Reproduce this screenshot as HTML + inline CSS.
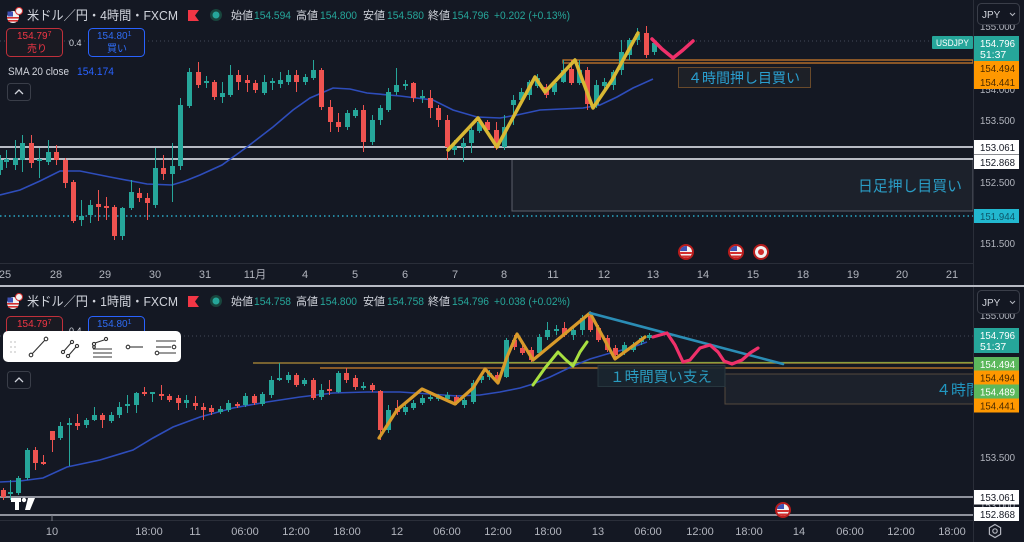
<!DOCTYPE html>
<html><head><meta charset="utf-8">
<style>
html,body{margin:0;padding:0;background:#141823;}
body{width:1024px;height:542px;overflow:hidden;}
svg{display:block;font-family:"Liberation Sans","Noto Sans CJK JP",sans-serif;}
</style></head>
<body>
<svg id="s" width="1024" height="542" viewBox="0 0 1024 542" xmlns="http://www.w3.org/2000/svg">
<defs>
<clipPath id="cc"><circle r="6"/></clipPath>
<clipPath id="chartB"><rect x="0" y="288" width="973" height="232"/></clipPath>
<g id="us"><circle r="8" fill="#b71c1c"/><g clip-path="url(#cc)"><rect x="-6" y="-6" width="12" height="12" fill="#f2f2f2"/><rect x="-6" y="0" width="12" height="2" fill="#d32f2f"/><rect x="-6" y="3.5" width="12" height="3" fill="#d32f2f"/><rect x="-6" y="-6" width="7" height="5" fill="#3f51b5"/></g></g>
<g id="jp"><circle r="8" fill="#b71c1c"/><circle r="6" fill="#f2f2f2"/><circle r="3" fill="#d32f2f"/></g>
</defs>
<rect width="1024" height="542" fill="#141823"/>

<!-- ================= TOP PANEL ================= -->
<rect x="512" y="159" width="461" height="52" fill="#1c212b" stroke="#5d606b" stroke-width="1"/>
<text x="858" y="191" font-size="15" fill="#2a9cc4" textLength="104" lengthAdjust="spacingAndGlyphs">日足押し目買い</text>
<line x1="0" y1="41" x2="973" y2="41" stroke="#434a5a" stroke-width="1" stroke-dasharray="1,3"/>
<line x1="0" y1="216" x2="973" y2="216" stroke="#2aa8c6" stroke-width="1.5" stroke-dasharray="1.5,3"/>
<line x1="0" y1="147" x2="973" y2="147" stroke="#b8bbc4" stroke-width="2"/>
<line x1="0" y1="159" x2="973" y2="159" stroke="#b8bbc4" stroke-width="2"/>
<rect x="563" y="60" width="410" height="3" fill="none" stroke="#c8782a" stroke-width="1.3"/>
<polyline fill="none" stroke="#2e4dbb" stroke-width="1.6" points="0,195 20,190 40,181 60,171 80,171 110,177 147,184 172,185 185,181 200,175 222,165 247,147 273,127 293,110 310,98 333,88 350,89 367,93 400,96 433,100 453,110 477,117 500,118 517,115 540,110 583,108 600,105 617,97 633,88 653,79"/>
<g id="candT"></g>
<polyline fill="none" stroke="#d9b833" stroke-width="3.5" stroke-linejoin="round" stroke-linecap="round" points="448,150 478,118 497,147 535,77 545,92 575,60 593,108 612,80 638,33"/>
<polyline fill="none" stroke="#f0306a" stroke-width="3.5" stroke-linejoin="round" stroke-linecap="round" points="652,39 662,49 673,58 683,50 693,41"/>
<rect x="678.5" y="67.5" width="132" height="20" fill="#1d2027" stroke="#6a4a2a" stroke-width="1"/>
<text x="688" y="83" font-size="14" fill="#2a9fd0" textLength="112" lengthAdjust="spacingAndGlyphs">４時間押し目買い</text>
<use href="#us" x="686" y="252"/>
<use href="#us" x="736" y="252"/>
<use href="#jp" x="761" y="252"/>
<line x1="0" y1="263.5" x2="973" y2="263.5" stroke="#2a2e39" stroke-width="1"/>
<g font-size="11" fill="#b2b5be" text-anchor="middle">
<text x="5" y="278">25</text><text x="56" y="278">28</text><text x="105" y="278">29</text><text x="155" y="278">30</text><text x="205" y="278">31</text><text x="255" y="278">11月</text><text x="305" y="278">4</text><text x="355" y="278">5</text><text x="405" y="278">6</text><text x="455" y="278">7</text><text x="504" y="278">8</text><text x="553" y="278">11</text><text x="604" y="278">12</text><text x="653" y="278">13</text><text x="703" y="278">14</text><text x="753" y="278">15</text><text x="803" y="278">18</text><text x="853" y="278">19</text><text x="902" y="278">20</text><text x="952" y="278">21</text>
</g>
<line x1="973.5" y1="0" x2="973.5" y2="285" stroke="#2a2e39" stroke-width="1"/>
<g font-size="10.5" fill="#b2b5be">
<text x="980" y="30" textLength="35" lengthAdjust="spacingAndGlyphs">155.000</text>
<text x="980" y="93" textLength="35" lengthAdjust="spacingAndGlyphs">154.000</text>
<text x="980" y="124" textLength="35" lengthAdjust="spacingAndGlyphs">153.500</text>
<text x="980" y="186" textLength="35" lengthAdjust="spacingAndGlyphs">152.500</text>
<text x="980" y="247" textLength="35" lengthAdjust="spacingAndGlyphs">151.500</text>
</g>
<rect x="977.5" y="3.5" width="42" height="21" rx="4" fill="#131722" stroke="#3a3e49"/>
<text x="982" y="18" font-size="10" fill="#d1d4dc">JPY</text>
<polyline points="1010,13 1012.5,15.5 1015,13" fill="none" stroke="#b2b5be" stroke-width="1"/>
<rect x="932" y="36" width="41" height="13" rx="1" fill="#26a69a"/>
<text x="936" y="46" font-size="9.5" fill="#ffffff" textLength="33" lengthAdjust="spacingAndGlyphs">USDJPY</text>
<rect x="974" y="36" width="45" height="25" fill="#26a69a"/>
<text x="980" y="47" font-size="10.5" fill="#ffffff" textLength="35" lengthAdjust="spacingAndGlyphs">154.796</text>
<text x="980" y="58" font-size="10.5" fill="#ffffff">51:37</text>
<rect x="974" y="61" width="45" height="14" fill="#ff9800"/>
<text x="980" y="72" font-size="10.5" fill="#4a2a00" textLength="35" lengthAdjust="spacingAndGlyphs">154.494</text>
<rect x="974" y="75" width="45" height="14" fill="#ff9800"/>
<text x="980" y="86" font-size="10.5" fill="#4a2a00" textLength="35" lengthAdjust="spacingAndGlyphs">154.441</text>
<rect x="974" y="140" width="45" height="14.5" fill="#ffffff"/>
<text x="980" y="151" font-size="10.5" fill="#131722" textLength="35" lengthAdjust="spacingAndGlyphs">153.061</text>
<rect x="974" y="155" width="45" height="14" fill="#ffffff"/>
<text x="980" y="166" font-size="10.5" fill="#131722" textLength="35" lengthAdjust="spacingAndGlyphs">152.868</text>
<rect x="974" y="209" width="45" height="14" fill="#22b8d0"/>
<text x="980" y="220" font-size="10.5" fill="#0d5568" textLength="35" lengthAdjust="spacingAndGlyphs">151.944</text>

<circle cx="13" cy="17" r="6" fill="#f2f2f2"/>
<rect x="7" y="17" width="12" height="1.6" fill="#d32f2f"/><rect x="8" y="20" width="10" height="1.6" fill="#d32f2f"/>
<rect x="7.5" y="11.5" width="5.5" height="5" fill="#3f51b5"/>
<circle cx="19" cy="11" r="3.5" fill="#f2f2f2" stroke="#d32f2f" stroke-width="1"/>
<text x="27" y="20" font-size="13" fill="#d1d4dc" textLength="151" lengthAdjust="spacingAndGlyphs">米ドル／円・4時間・FXCM</text>
<polygon points="188,10 199,10 195,15.5 199,21 188,21" fill="#f23645"/>
<circle cx="216" cy="15" r="6" fill="#18453d"/><circle cx="216" cy="15" r="3.5" fill="#26a69a"/>
<g font-size="11">
<text x="231" y="19" fill="#d1d4dc">始値</text><text x="254" y="19" fill="#26a69a" textLength="37" lengthAdjust="spacingAndGlyphs">154.594</text>
<text x="296" y="19" fill="#d1d4dc">高値</text><text x="320" y="19" fill="#26a69a" textLength="37" lengthAdjust="spacingAndGlyphs">154.800</text>
<text x="363" y="19" fill="#d1d4dc">安値</text><text x="387" y="19" fill="#26a69a" textLength="37" lengthAdjust="spacingAndGlyphs">154.580</text>
<text x="428" y="19" fill="#d1d4dc">終値</text><text x="452" y="19" fill="#26a69a" textLength="37" lengthAdjust="spacingAndGlyphs">154.796</text>
<text x="494" y="19" fill="#26a69a" textLength="76" lengthAdjust="spacingAndGlyphs">+0.202 (+0.13%)</text>
</g>
<rect x="6.5" y="28.5" width="56" height="28" rx="4" fill="#1a1a22" stroke="#c0303b"/>
<text x="17" y="39" font-size="10" fill="#f23645">154.79<tspan font-size="7" dy="-3">7</tspan></text>
<text x="27" y="52" font-size="10" fill="#f23645">売り</text>
<text x="69" y="46" font-size="9" fill="#d1d4dc">0.4</text>
<rect x="88.5" y="28.5" width="56" height="28" rx="4" fill="#161a28" stroke="#2962ff"/>
<text x="97" y="39" font-size="10" fill="#2f6cf5">154.80<tspan font-size="7" dy="-3">1</tspan></text>
<text x="107" y="52" font-size="10" fill="#2f6cf5">買い</text>
<text x="8" y="75" font-size="11" fill="#d1d4dc" textLength="61" lengthAdjust="spacingAndGlyphs">SMA 20 close</text>
<text x="77" y="75" font-size="11" fill="#2962ff" textLength="37" lengthAdjust="spacingAndGlyphs">154.174</text>
<rect x="7.5" y="83.5" width="23" height="17" rx="3" fill="#141823" stroke="#3a3e49"/>
<polyline points="15,94 19,90 23,94" fill="none" stroke="#d1d4dc" stroke-width="1.3"/>

<rect x="0" y="285" width="1024" height="2" fill="#b8bbc4"/>

<!-- ================= BOTTOM PANEL ================= -->
<g clip-path="url(#chartB)">
<rect x="725" y="374" width="250" height="30" fill="#1c212b" stroke="#54493e" stroke-width="1"/>
<text x="936" y="395" font-size="15" fill="#2196c0">４時間押し目買い</text>
</g>
<line x1="0" y1="336" x2="973" y2="336" stroke="#434a5a" stroke-width="1" stroke-dasharray="1,3"/>
<line x1="253" y1="363" x2="973" y2="363" stroke="#9a7a35" stroke-width="1.5"/>
<line x1="480" y1="362.5" x2="973" y2="362.5" stroke="#8fae40" stroke-width="1.3" opacity="0.8"/>
<line x1="320" y1="368" x2="973" y2="368" stroke="#b0702a" stroke-width="1.5"/>
<line x1="0" y1="497" x2="973" y2="497" stroke="#b8bbc4" stroke-width="1.6"/>
<line x1="0" y1="515" x2="973" y2="515" stroke="#b8bbc4" stroke-width="1.6"/>
<polyline fill="none" stroke="#2e4dbb" stroke-width="1.6" points="0,482 20,481 43,478 67,467 100,460 133,450 153,438 173,427 200,417 233,408 267,402 300,397 333,393 367,392 400,392 430,394 457,396 480,395 500,392 520,388 533,384 550,377 573,366 590,359 607,354 630,348 647,342"/>
<g id="candB"></g>
<rect x="598" y="365.5" width="127" height="21" fill="#1a2630" stroke="#2a3a42" stroke-width="1" opacity="0.9"/>
<text x="610" y="382" font-size="14.5" fill="#2a9cc0" textLength="102" lengthAdjust="spacingAndGlyphs">１時間買い支え</text>
<polyline fill="none" stroke="#d89a2a" stroke-width="3.2" stroke-linejoin="round" stroke-linecap="round" points="379,438 397,410 422,389 435,395 455,404 473,388 485,369 498,383 507,357 517,334 533,360 590,313 615,359 645,337"/>
<polyline fill="none" stroke="#a8e040" stroke-width="3" stroke-linejoin="round" stroke-linecap="round" points="533,385 545,368 558,352 566,360 573,366 580,352 587,342"/>
<line x1="590" y1="313" x2="783" y2="364" stroke="#2b8db5" stroke-width="2.6" stroke-linecap="round"/>
<polyline fill="none" stroke="#f0306a" stroke-width="3.2" stroke-linejoin="round" stroke-linecap="round" points="653,337 667,333 675,345 683,362 690,360 700,348 710,345 718,352 724,361 732,364 742,360 750,353 758,348"/>
<use href="#us" x="783" y="510"/>
<rect x="11" y="498" width="10" height="4" fill="#ffffff"/><rect x="15" y="498" width="4" height="12" fill="#ffffff"/>
<circle cx="24" cy="500" r="2.2" fill="#ffffff"/><polygon points="28,498 35,498 30,510 25,510" fill="#ffffff"/>
<line x1="0" y1="520.5" x2="973" y2="520.5" stroke="#2a2e39" stroke-width="1"/>
<line x1="52" y1="515" x2="52" y2="521" stroke="#787b86" stroke-width="1"/>
<g font-size="11" fill="#b2b5be" text-anchor="middle">
<text x="52" y="535">10</text><text x="149" y="535">18:00</text><text x="195" y="535">11</text><text x="245" y="535">06:00</text><text x="296" y="535">12:00</text><text x="347" y="535">18:00</text><text x="397" y="535">12</text><text x="447" y="535">06:00</text><text x="498" y="535">12:00</text><text x="548" y="535">18:00</text><text x="598" y="535">13</text><text x="648" y="535">06:00</text><text x="700" y="535">12:00</text><text x="749" y="535">18:00</text><text x="799" y="535">14</text><text x="850" y="535">06:00</text><text x="901" y="535">12:00</text><text x="952" y="535">18:00</text>
</g>
<line x1="973.5" y1="287" x2="973.5" y2="542" stroke="#2a2e39" stroke-width="1"/>
<g font-size="10.5" fill="#b2b5be">
<text x="980" y="319" textLength="35" lengthAdjust="spacingAndGlyphs">155.000</text>
<text x="980" y="461" textLength="35" lengthAdjust="spacingAndGlyphs">153.500</text>
<text x="980" y="509" textLength="35" lengthAdjust="spacingAndGlyphs">153.000</text>
</g>
<rect x="977.5" y="290.5" width="42" height="23" rx="4" fill="#131722" stroke="#3a3e49"/>
<text x="982" y="306" font-size="10" fill="#d1d4dc">JPY</text>
<polyline points="1010,301 1012.5,303.5 1015,301" fill="none" stroke="#b2b5be" stroke-width="1"/>
<rect x="974" y="328" width="45" height="25" fill="#26a69a"/>
<text x="980" y="339" font-size="10.5" fill="#ffffff" textLength="35" lengthAdjust="spacingAndGlyphs">154.796</text>
<text x="980" y="350" font-size="10.5" fill="#ffffff">51:37</text>
<rect x="974" y="357" width="45" height="13.5" fill="#5cb85c"/>
<text x="980" y="368" font-size="10.5" fill="#ffffff" textLength="35" lengthAdjust="spacingAndGlyphs">154.494</text>
<rect x="974" y="370.5" width="45" height="14" fill="#ff9800"/>
<text x="980" y="381.5" font-size="10.5" fill="#4a2a00" textLength="35" lengthAdjust="spacingAndGlyphs">154.494</text>
<rect x="974" y="384.5" width="45" height="14" fill="#5cb85c"/>
<text x="980" y="395.5" font-size="10.5" fill="#ffffff" textLength="35" lengthAdjust="spacingAndGlyphs">154.489</text>
<rect x="974" y="398.5" width="45" height="14" fill="#ff9800"/>
<text x="980" y="409.5" font-size="10.5" fill="#4a2a00" textLength="35" lengthAdjust="spacingAndGlyphs">154.441</text>
<rect x="974" y="490" width="45" height="14.5" fill="#ffffff"/>
<text x="980" y="501" font-size="10.5" fill="#131722" textLength="35" lengthAdjust="spacingAndGlyphs">153.061</text>
<rect x="974" y="507" width="45" height="14" fill="#ffffff"/>
<text x="980" y="518" font-size="10.5" fill="#131722" textLength="35" lengthAdjust="spacingAndGlyphs">152.868</text>
<polygon points="995,524.5 1000.6,527.75 1000.6,534.25 995,537.5 989.4,534.25 989.4,527.75" fill="none" stroke="#b2b5be" stroke-width="1.2"/>
<circle cx="995" cy="531" r="2.2" fill="none" stroke="#b2b5be" stroke-width="1.2"/>

<circle cx="13" cy="303" r="6" fill="#f2f2f2"/>
<rect x="7" y="303" width="12" height="1.6" fill="#d32f2f"/><rect x="8" y="306" width="10" height="1.6" fill="#d32f2f"/>
<rect x="7.5" y="297.5" width="5.5" height="5" fill="#3f51b5"/>
<circle cx="19" cy="297" r="3.5" fill="#f2f2f2" stroke="#d32f2f" stroke-width="1"/>
<text x="27" y="306" font-size="13" fill="#d1d4dc" textLength="151" lengthAdjust="spacingAndGlyphs">米ドル／円・1時間・FXCM</text>
<polygon points="188,296 199,296 195,301.5 199,307 188,307" fill="#f23645"/>
<circle cx="216" cy="301" r="6" fill="#18453d"/><circle cx="216" cy="301" r="3.5" fill="#26a69a"/>
<g font-size="11">
<text x="231" y="305" fill="#d1d4dc">始値</text><text x="254" y="305" fill="#26a69a" textLength="37" lengthAdjust="spacingAndGlyphs">154.758</text>
<text x="296" y="305" fill="#d1d4dc">高値</text><text x="320" y="305" fill="#26a69a" textLength="37" lengthAdjust="spacingAndGlyphs">154.800</text>
<text x="363" y="305" fill="#d1d4dc">安値</text><text x="387" y="305" fill="#26a69a" textLength="37" lengthAdjust="spacingAndGlyphs">154.758</text>
<text x="428" y="305" fill="#d1d4dc">終値</text><text x="452" y="305" fill="#26a69a" textLength="37" lengthAdjust="spacingAndGlyphs">154.796</text>
<text x="494" y="305" fill="#26a69a" textLength="76" lengthAdjust="spacingAndGlyphs">+0.038 (+0.02%)</text>
</g>
<rect x="6.5" y="316.5" width="56" height="28" rx="4" fill="#1a1a22" stroke="#c0303b"/>
<text x="17" y="327" font-size="10" fill="#f23645">154.79<tspan font-size="7" dy="-3">7</tspan></text>
<text x="69" y="334" font-size="9" fill="#d1d4dc">0.4</text>
<rect x="88.5" y="316.5" width="56" height="28" rx="4" fill="#161a28" stroke="#2962ff"/>
<text x="97" y="327" font-size="10" fill="#2f6cf5">154.80<tspan font-size="7" dy="-3">1</tspan></text>
<rect x="3" y="331" width="178" height="31" rx="5" fill="#ffffff"/>
<g fill="#c8c8c8"><circle cx="11" cy="342" r="0.9"/><circle cx="15" cy="342" r="0.9"/><circle cx="11" cy="347" r="0.9"/><circle cx="15" cy="347" r="0.9"/><circle cx="11" cy="352" r="0.9"/><circle cx="15" cy="352" r="0.9"/></g>
<g fill="none" stroke="#333" stroke-width="1.1">
<line x1="32" y1="354" x2="45" y2="340"/><circle cx="31" cy="355" r="1.8"/><circle cx="46" cy="339" r="1.8"/>
<line x1="64" y1="351" x2="71" y2="343"/><circle cx="63" cy="352" r="1.6"/><circle cx="72" cy="342" r="1.6"/>
<line x1="69" y1="355" x2="76" y2="347"/><circle cx="68" cy="356" r="1.6"/><circle cx="77" cy="346" r="1.6"/>
<line x1="95" y1="343" x2="104" y2="340"/><circle cx="94" cy="344" r="1.6"/><circle cx="106" cy="339" r="1.6"/>
<line x1="93" y1="349" x2="112" y2="349"/><line x1="93" y1="353" x2="112" y2="353"/><line x1="93" y1="357" x2="112" y2="357"/><circle cx="94" cy="347" r="1.3"/>
<circle cx="128" cy="347" r="1.8"/><line x1="130" y1="347" x2="143" y2="347"/>
<line x1="156" y1="341" x2="176" y2="341"/><line x1="156" y1="347" x2="171" y2="347"/><circle cx="174" cy="347" r="1.8"/><line x1="159" y1="353" x2="176" y2="353"/><circle cx="157" cy="353" r="1.8"/>
</g>
<rect x="7.5" y="371.5" width="23" height="17" rx="3" fill="#141823" stroke="#3a3e49"/>
<polyline points="15,382 19,378 23,382" fill="none" stroke="#d1d4dc" stroke-width="1.3"/>
</svg>
<script>
var T=[[0,'g',160,170,155,175],[6,'g',159,162,150,168],[15,'g',158,165,140,170],[22,'g',143,160,135,172],[31,'r',143,163,135,168],[39,'g',159,161,148,178],[48,'g',152,162,140,165],[56,'r',152,160,145,165],[65,'r',160,183,158,188],[73,'r',182,221,180,223],[81,'g',216,220,200,226],[90,'g',205,215,200,223],[98,'r',204,207,190,221],[106,'r',206,208,197,220],[114,'r',207,236,205,240],[122,'g',208,236,207,240],[131,'g',192,208,180,210],[139,'r',193,198,188,202],[147,'r',198,203,193,220],[155,'g',168,205,148,208],[163,'r',168,174,155,180],[172,'g',166,174,143,202],[180,'g',105,166,98,170],[189,'g',72,106,68,108],[198,'r',72,85,62,88],[206,'g',81,83,76,88],[214,'r',82,97,80,100],[222,'g',93,97,82,103],[230,'g',75,95,65,97],[238,'r',75,82,70,90],[247,'r',80,83,75,92],[255,'r',83,90,80,93],[264,'g',82,93,75,95],[272,'g',81,83,78,90],[280,'g',80,84,72,88],[288,'g',75,82,70,85],[296,'r',75,82,70,92],[305,'g',77,82,74,85],[313,'g',70,78,60,80],[321,'r',70,107,68,110],[330,'r',107,122,100,132],[338,'r',122,127,113,132],[347,'g',113,127,110,130],[355,'g',110,116,108,118],[363,'r',110,142,105,152],[372,'g',120,142,115,145],[380,'g',108,120,105,125],[388,'g',92,110,88,112],[396,'g',85,92,68,95],[405,'g',84,86,80,90],[413,'r',83,98,82,102],[422,'g',96,98,90,103],[430,'r',98,108,90,118],[438,'r',108,120,105,127],[447,'r',120,147,115,160],[454,'g',146,150,140,155],[463,'g',143,147,138,162],[471,'g',130,143,125,153],[479,'g',122,131,117,133],[487,'r',122,130,120,135],[496,'r',130,148,122,150],[504,'g',127,147,115,150],[513,'g',100,105,95,125],[521,'g',92,100,88,104],[529,'g',82,95,80,100],[537,'g',78,86,74,88],[546,'r',87,95,84,98],[554,'g',83,92,80,95],[563,'g',70,82,60,83],[571,'r',69,83,60,85],[579,'g',70,83,60,85],[587,'r',70,104,67,110],[596,'g',85,105,80,108],[604,'g',82,86,78,90],[613,'g',72,85,70,90],[621,'g',52,70,40,75],[629,'g',40,55,38,60],[637,'g',34,40,28,45],[646,'r',33,55,26,58],[654,'g',43,52,40,55]];
var B=[[3,'r',490,497,488,500],[10,'g',492,494,480,500],[18,'g',478,493,476,495],[27,'g',450,478,448,480],[35,'r',450,463,447,470],[43,'r',462,464,455,465],[52,'r',431,440,431,452],[60,'g',426,438,422,440],[69,'g',423,425,418,466],[77,'r',423,426,414,430],[86,'g',420,425,418,428],[94,'g',415,420,407,421],[102,'r',415,420,413,428],[111,'g',415,421,412,423],[119,'g',407,415,402,418],[127,'g',404,406,395,413],[136,'g',393,405,392,413],[144,'r',392,394,387,396],[152,'g',392,394,392,402],[161,'r',394,396,385,400],[169,'r',396,400,394,402],[178,'r',398,403,395,410],[186,'g',400,403,395,408],[195,'r',403,406,396,410],[203,'r',407,410,403,420],[211,'r',408,412,405,415],[220,'g',409,412,406,414],[228,'g',403,410,400,412],[237,'r',404,406,402,408],[245,'g',396,405,393,407],[254,'r',396,403,394,405],[262,'g',394,404,392,406],[271,'g',380,395,376,398],[279,'g',378,380,363,381],[288,'g',375,380,372,383],[296,'r',375,385,373,387],[304,'g',380,384,378,386],[313,'r',380,398,378,400],[321,'g',390,397,384,400],[329,'r',389,391,380,395],[338,'g',373,392,371,393],[346,'r',373,380,368,383],[355,'r',378,387,375,390],[363,'g',386,388,382,390],[372,'r',385,390,383,392],[380,'r',391,430,390,440],[388,'g',410,430,405,433],[397,'r',408,412,400,415],[405,'g',407,412,404,415],[413,'g',403,408,400,410],[422,'g',398,403,395,405],[430,'g',397,399,395,401],[438,'g',397,399,394,401],[447,'g',395,399,392,401],[456,'r',397,403,395,405],[464,'g',400,405,398,408],[473,'g',383,402,380,404],[481,'g',376,380,372,383],[489,'g',373,377,370,380],[497,'r',375,380,372,382],[506,'g',340,377,338,378],[514,'r',340,347,335,350],[522,'r',348,353,345,355],[531,'r',350,360,347,362],[539,'g',337,353,334,355],[547,'g',330,337,322,340],[556,'g',329,331,325,335],[564,'r',328,335,322,337],[573,'g',330,335,325,340],[582,'g',318,330,315,335],[590,'r',316,330,313,332],[598,'r',328,340,325,342],[607,'r',338,350,335,352],[615,'r',348,355,345,358],[624,'g',345,352,342,355],[633,'g',345,350,342,352],[641,'g',338,342,336,345],[649,'g',335,338,333,340]];
function draw(id,arr){var g=document.getElementById(id),s='';for(var i=0;i<arr.length;i++){var c=arr[i],x=c[0],col=c[1]=='g'?'#26a69a':'#ef5350';s+='<line x1="'+(x+0.5)+'" x2="'+(x+0.5)+'" y1="'+c[4]+'" y2="'+c[5]+'" stroke="'+col+'" stroke-width="1"/><rect x="'+(x-2)+'" y="'+c[2]+'" width="5" height="'+Math.max(1.5,c[3]-c[2])+'" fill="'+col+'"/>';}g.innerHTML=s;}
draw('candT',T);draw('candB',B);
</script>
</body></html>
